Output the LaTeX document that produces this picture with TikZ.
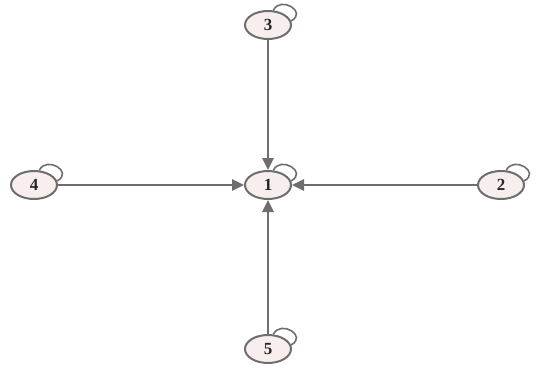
\documentclass[tikz,border=0pt]{standalone}
\usepackage{fontspec}
\setmainfont{Liberation Serif}
\usetikzlibrary{shapes.geometric,arrows.meta}
\definecolor{edgegray}{HTML}{6E6E6E}
\definecolor{nodefill}{HTML}{F9EEEE}
\tikzset{
  vnode/.style={ellipse, draw=edgegray, fill=nodefill, line width=2pt,
    minimum width=46pt, minimum height=28pt, inner sep=0pt,
    font=\fontsize{17}{17}\selectfont\bfseries, text=black!85},
  conn/.style={draw=edgegray, line width=2.5pt,
    -{Triangle[length=12pt,width=11pt]}},
  selfloop/.style={draw=edgegray, line width=1.6pt}
}
\begin{document}
\begin{tikzpicture}[x=1pt,y=1pt]
\useasboundingbox (0,0) rectangle (541,368);
\node[vnode] (n1) at (268,183) {1};
\node[vnode] (n3) at (268,343) {3};
\node[vnode] (n5) at (268,19) {5};
\node[vnode] (n4) at (34,183) {4};
\node[vnode] (n2) at (501,183) {2};
\foreach \n in {n1,n2,n3,n4,n5}{
  \draw[selfloop] (\n.70) .. controls +(7,15) and +(17,9) .. (\n.10);
}
\draw[conn] (n3) -- (n1);
\draw[conn] (n5) -- (n1);
\draw[conn] (n4) -- (n1);
\draw[conn] (n2) -- (n1);
\end{tikzpicture}
\end{document}
